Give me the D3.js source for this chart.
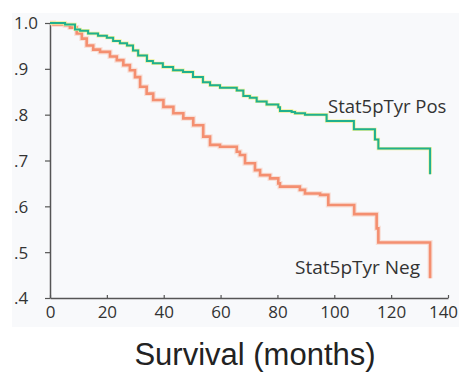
<!DOCTYPE html>
<html>
<head>
<meta charset="utf-8">
<script src="https://cdn.jsdelivr.net/npm/d3@7"></script>
<style>
  body { margin: 0; background: #fff; }
</style>
</head>
<body>
<div id="chart"></div>
<script>
// Kaplan-Meier steps (months, survival fraction)
const posTimes = [0, 5.3, 8.8, 10.6, 13.4, 16.9, 20, 22.2, 24.6, 27.1, 29.2, 31, 34.1, 36.2, 39.7, 43.3, 46.8, 50.3, 53.8, 56.3, 59.8, 65.7, 68, 70.3, 72.7, 76.2, 80.3, 80.9, 85, 86.2, 89.7, 97.3, 106.9, 114.3, 115.5, 133.7];
const posSurv  = [1.0, 0.997, 0.986, 0.983, 0.977, 0.972, 0.968, 0.961, 0.956, 0.951, 0.940, 0.929, 0.917, 0.912, 0.904, 0.897, 0.893, 0.882, 0.871, 0.864, 0.859, 0.853, 0.841, 0.837, 0.829, 0.822, 0.816, 0.808, 0.806, 0.803, 0.800, 0.786, 0.768, 0.746, 0.726, 0.670];

const negTimes = [0, 1.2, 5.3, 7, 9.4, 11.2, 12.9, 15.2, 17.6, 21.1, 23.5, 25.8, 28.1, 29.9, 31.7, 34, 36.3, 39.9, 43.4, 46.9, 50.4, 53.9, 56.3, 59.8, 65.7, 66.8, 68.6, 72.1, 73.9, 77.4, 80.3, 80.9, 87.9, 89.7, 95, 97.9, 107, 114.9, 115.5, 133.7];
const negSurv  = [1.0, 0.997, 0.995, 0.990, 0.977, 0.966, 0.951, 0.942, 0.937, 0.927, 0.919, 0.908, 0.897, 0.882, 0.861, 0.846, 0.832, 0.817, 0.803, 0.792, 0.777, 0.752, 0.734, 0.730, 0.719, 0.712, 0.694, 0.679, 0.668, 0.661, 0.650, 0.643, 0.636, 0.628, 0.625, 0.603, 0.583, 0.552, 0.521, 0.443];

const xTicks = [0, 20, 40, 60, 80, 100, 120, 140];
const yTicks = [0.4, 0.5, 0.6, 0.7, 0.8, 0.9, 1.0];
const yTickLabels = ['.4', '.5', '.6', '.7', '.8', '.9', '1.0'];

const width = 459;
const height = 373;
const margin = { top: 23, right: 11, bottom: 75, left: 50 };

const svg = d3.select('#chart')
  .append('svg')
  .attr('width', width)
  .attr('height', height);

// pale panel behind the plot
svg.append('rect')
  .attr('x', 12)
  .attr('y', 13)
  .attr('width', width - 12)
  .attr('height', 314)
  .attr('fill', '#f8f9fb');

const x = d3.scaleLinear()
  .domain([0, 140])
  .range([margin.left, width - margin.right]);

const y = d3.scaleLinear()
  .domain([0.4, 1.0])
  .range([height - margin.bottom, margin.top]);

const axisColor = '#555';
const labelFont = '"Open Sans", "DejaVu Sans", sans-serif';

// x axis
const xAxis = svg.append('g')
  .attr('transform', `translate(0,${y(0.4)})`)
  .call(d3.axisBottom(x).tickValues(xTicks).tickSize(-3).tickPadding(8).tickSizeOuter(0));

xAxis.select('.domain').attr('stroke', axisColor).attr('stroke-width', 1.5);
xAxis.selectAll('.tick line').attr('stroke', axisColor).attr('stroke-width', 1.2);
xAxis.selectAll('.tick text')
  .attr('fill', '#333')
  .style('font-family', labelFont)
  .style('font-size', '17px');

// last label sits a little left of its tick so it stays on the page
xAxis.selectAll('.tick text')
  .filter(d => d === 140)
  .attr('x', -5);

// y axis, labels left aligned like the original
const yAxis = svg.append('g')
  .attr('transform', `translate(${margin.left},0)`)
  .call(d3.axisLeft(y).tickValues(yTicks).tickSize(5).tickSizeOuter(0)
    .tickFormat((d, i) => yTickLabels[i]));

yAxis.select('.domain').attr('stroke', axisColor).attr('stroke-width', 1.5);
yAxis.selectAll('.tick line').attr('stroke', axisColor).attr('stroke-width', 1.2);
yAxis.selectAll('.tick text')
  .attr('x', -36)
  .attr('dy', '0.35em')
  .style('text-anchor', 'start')
  .attr('fill', '#333')
  .style('font-family', labelFont)
  .style('font-size', '17px');

const line = d3.line()
  .x(d => x(d[0]))
  .y(d => y(d[1]))
  .curve(d3.curveStepAfter);

const posData = posTimes.map((t, i) => [t, posSurv[i]]);
const negData = negTimes.map((t, i) => [t, negSurv[i]]);

// negative group
svg.append('path')
  .datum(negData)
  .attr('fill', 'none')
  .attr('stroke', '#f7c7b6')
  .attr('stroke-width', 5)
  .attr('opacity', 0.5)
  .attr('d', line);

svg.append('path')
  .datum(negData)
  .attr('fill', 'none')
  .attr('stroke', '#f48f70')
  .attr('stroke-width', 2.6)
  .attr('d', line);

// positive group, thin yellow halo under the green
svg.append('path')
  .datum(posData)
  .attr('fill', 'none')
  .attr('stroke', '#eef09a')
  .attr('stroke-width', 3.4)
  .attr('d', line);

svg.append('path')
  .datum(posData)
  .attr('fill', 'none')
  .attr('stroke', '#20b08e')
  .attr('stroke-width', 2)
  .attr('d', line);

// series labels
svg.append('text')
  .attr('x', 328)
  .attr('y', 113)
  .attr('fill', '#333')
  .style('font-family', labelFont)
  .style('font-size', '18.5px')
  .text('Stat5pTyr Pos');

svg.append('text')
  .attr('x', 295)
  .attr('y', 274)
  .attr('fill', '#333')
  .style('font-family', labelFont)
  .style('font-size', '19px')
  .text('Stat5pTyr Neg');

// axis title
svg.append('text')
  .attr('x', 255)
  .attr('y', 365)
  .attr('text-anchor', 'middle')
  .attr('fill', '#222')
  .style('font-family', '"Liberation Sans", Arial, sans-serif')
  .style('font-size', '31px')
  .text('Survival (months)');
</script>
</body>
</html>
